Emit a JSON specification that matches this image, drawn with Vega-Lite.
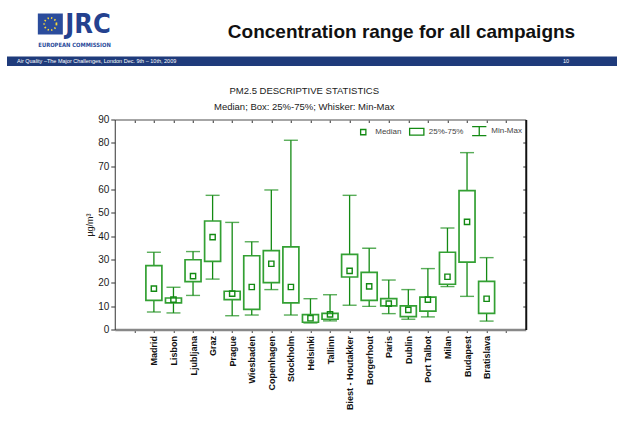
{
  "$schema": "https://vega.github.io/schema/vega-lite/v6.json",
  "background": "white",
  "padding": {"left": 7, "top": 9.5, "right": 0, "bottom": 4},
  "config": {
    "font": "Liberation Sans",
    "view": {"stroke": null}
  },
  "center": true,
  "spacing": 9,
  "resolve": {"legend": {"shape": "independent"}},
  "vconcat": [
    {
      "width": 25, "height": 21,
      "view": {"fill": "#2b4c9c", "stroke": null},
      "data": {"values": [{"emblem": "EU flag"}]},
      "mark": {"type": "point", "shape": "circle", "filled": false, "color": "#f5d63a", "strokeWidth": 1.8, "strokeDash": [1.4, 2.2], "size": 150, "opacity": 1},
      "encoding": {
        "x": {"datum": "EU", "type": "nominal", "axis": {"title": "EUROPEAN COMMISSION", "labels": false, "ticks": false, "domain": false, "grid": false, "titleAnchor": "start", "titleAlign": "left", "titleBaseline": "top", "titleFontSize": 5.8, "titleFontWeight": "bold", "titleColor": "#2a4a9a", "titlePadding": 6.5, "titleFont": "DejaVu Sans Condensed, Liberation Sans, sans-serif"}},
        "y": {"datum": "EU", "type": "nominal", "axis": {"orient": "right", "title": "JRC", "labels": false, "ticks": false, "domain": false, "grid": false, "titleAngle": 0, "titleAlign": "left", "titleBaseline": "middle", "titleAnchor": "middle", "titlePadding": 2, "titleFontSize": 27, "titleFontWeight": "bold", "titleColor": "#24418f", "titleFont": "DejaVu Sans Condensed, Liberation Sans, sans-serif"}}
      },
      "title": {"text": "Concentration range for all campaigns\u2800\u2800", "orient": "top", "anchor": "start", "frame": "group", "align": "left", "baseline": "alphabetic", "dx": 190, "dy": 18, "offset": -28.5, "fontSize": 19, "fontWeight": "bold", "color": "#111111", "font": "Liberation Sans"}
    },
    {
      "width": 610, "height": 9.5,
      "view": {"fill": "#1f3b7b", "stroke": null},
      "data": {"values": [
        {"part": "event", "label": "Air Quality –The Major Challenges, London Dec. 9th – 10th, 2009"},
        {"part": "page", "label": "10"}
      ]},
      "layer": [
        {
          "transform": [{"filter": "datum.part === 'event'"}],
          "mark": {"type": "text", "align": "left", "baseline": "middle", "dx": 10, "color": "white", "fontSize": 5.5},
          "encoding": {
            "x": {"field": "part", "type": "nominal", "scale": {"type": "point", "padding": 0, "domain": ["event", "page"]},
                  "axis": {"title": " ", "titleX": 627, "titleAlign": "left", "titleAnchor": "start", "labels": false, "ticks": false, "domain": false, "grid": false, "titlePadding": 1.5, "titleFontSize": 9}},
            "text": {"field": "label"}
          }
        },
        {
          "transform": [{"filter": "datum.part === 'page'"}],
          "mark": {"type": "text", "align": "right", "baseline": "middle", "dx": -48, "color": "white", "fontSize": 5.5},
          "encoding": {
            "x": {"field": "part", "type": "nominal", "scale": {"type": "point", "padding": 0, "domain": ["event", "page"]}},
            "text": {"field": "label"}
          }
        }
      ]
    },
    {
      "width": 411, "height": 210,
      "title": {"text": "PM2.5 DESCRIPTIVE STATISTICS", "subtitle": "Median; Box: 25%-75%; Whisker: Min-Max", "anchor": "middle", "frame": "group", "dx": -16, "offset": 3.1, "subtitlePadding": 6.5, "fontSize": 9.5, "fontWeight": "normal", "color": "#1a1a1a", "subtitleFontSize": 9.5, "subtitleColor": "#1a1a1a", "font": "Liberation Sans", "subtitleFont": "Liberation Sans"},
      "data": {"values": [
        {"city": "Madrid", "min": 7.5, "q1": 12.5, "median": 17.5, "q3": 27.4, "max": 33.1},
        {"city": "Lisbon", "min": 7.1, "q1": 11.4, "median": 12.8, "q3": 13.5, "max": 18.1},
        {"city": "Ljubljana", "min": 14.6, "q1": 20.5, "median": 22.9, "q3": 29.9, "max": 33.4},
        {"city": "Graz", "min": 21.6, "q1": 29.2, "median": 39.6, "q3": 46.5, "max": 57.5},
        {"city": "Prague", "min": 5.9, "q1": 12.8, "median": 15.4, "q3": 16.4, "max": 45.9},
        {"city": "Wiesbaden", "min": 6.2, "q1": 8.6, "median": 18.2, "q3": 31.6, "max": 37.6},
        {"city": "Copenhagen", "min": 17.1, "q1": 20.1, "median": 28.2, "q3": 33.8, "max": 59.8},
        {"city": "Stockholm", "min": 6.2, "q1": 11.4, "median": 18.2, "q3": 35.4, "max": 81.1},
        {"city": "Helsinki", "min": 2.8, "q1": 3.1, "median": 4.8, "q3": 6.4, "max": 13.2},
        {"city": "Tallinn", "min": 3.7, "q1": 4.4, "median": 6.5, "q3": 6.9, "max": 14.9},
        {"city": "Biest - Houtakker", "min": 10.4, "q1": 22.5, "median": 25.1, "q3": 32.2, "max": 57.5},
        {"city": "Borgerhout", "min": 9.9, "q1": 12.5, "median": 18.5, "q3": 24.5, "max": 34.8},
        {"city": "Paris", "min": 6.8, "q1": 10.1, "median": 11.1, "q3": 13.2, "max": 21.2},
        {"city": "Dublin", "min": 4.4, "q1": 5.5, "median": 8.4, "q3": 10.1, "max": 17.1},
        {"city": "Port Talbot", "min": 5.4, "q1": 7.9, "median": 12.8, "q3": 13.9, "max": 26.1},
        {"city": "Milan", "min": 18.4, "q1": 19.4, "median": 22.6, "q3": 33.1, "max": 43.5},
        {"city": "Budapest", "min": 14.2, "q1": 28.9, "median": 46.1, "q3": 59.5, "max": 75.8},
        {"city": "Bratislava", "min": 3.6, "q1": 6.9, "median": 13.2, "q3": 20.6, "max": 30.8}
      ]},
      "resolve": {"axis": {"x": "independent", "y": "independent"}},
      "layer": [
        {
          "mark": {"type": "rule", "color": "#138a13", "strokeWidth": 1.3},
          "encoding": {
            "x": {"field": "city", "type": "nominal", "sort": null,
                  "scale": {"type": "point", "padding": 1, "domain": ["", "Madrid", "Lisbon", "Ljubljana", "Graz", "Prague", "Wiesbaden", "Copenhagen", "Stockholm", "Helsinki", "Tallinn", "Biest - Houtakker", "Borgerhout", "Paris", "Dublin", "Port Talbot", "Milan", "Budapest", "Bratislava", " "]},
                  "axis": {"orient": "bottom", "title": null, "labelAngle": -90, "labelFontSize": 9, "labelFontWeight": "bold", "labelColor": "#111111", "labelPadding": 3, "tickSize": 3, "tickColor": "#444444", "domainColor": "#888888", "domainWidth": 2.5, "grid": false}},
            "y": {"field": "min", "type": "quantitative", "scale": {"domain": [0, 90], "nice": false},
                  "axis": {"orient": "left", "title": "µg/m³", "values": [0, 10, 20, 30, 40, 50, 60, 70, 80, 90], "tickSize": 4, "labelFontSize": 10, "labelColor": "#1a1a1a", "labelPadding": 2, "domainColor": "#333333", "tickColor": "#333333", "titleFontSize": 9, "titleFontWeight": "normal", "titleColor": "#1a1a1a", "titlePadding": 3, "grid": false}},
            "y2": {"field": "max"}
          }
        },
        {
          "mark": {"type": "tick", "orient": "horizontal", "color": "#138a13", "thickness": 1.4, "size": 14},
          "encoding": {
            "x": {"field": "city", "type": "nominal", "sort": null, "scale": {"type": "point", "padding": 1, "domain": ["", "Madrid", "Lisbon", "Ljubljana", "Graz", "Prague", "Wiesbaden", "Copenhagen", "Stockholm", "Helsinki", "Tallinn", "Biest - Houtakker", "Borgerhout", "Paris", "Dublin", "Port Talbot", "Milan", "Budapest", "Bratislava", " "]}, "axis": null},
            "y": {"field": "min", "type": "quantitative", "axis": null}
          }
        },
        {
          "mark": {"type": "tick", "orient": "horizontal", "color": "#138a13", "thickness": 1.4, "size": 14},
          "encoding": {
            "x": {"field": "city", "type": "nominal", "sort": null, "scale": {"type": "point", "padding": 1, "domain": ["", "Madrid", "Lisbon", "Ljubljana", "Graz", "Prague", "Wiesbaden", "Copenhagen", "Stockholm", "Helsinki", "Tallinn", "Biest - Houtakker", "Borgerhout", "Paris", "Dublin", "Port Talbot", "Milan", "Budapest", "Bratislava", " "]}, "axis": null},
            "y": {"field": "max", "type": "quantitative", "axis": null}
          }
        },
        {
          "mark": {"type": "bar", "width": 16, "fill": "white", "stroke": "#33a033", "strokeWidth": 1.7},
          "encoding": {
            "x": {"field": "city", "type": "nominal", "sort": null, "scale": {"type": "point", "padding": 1, "domain": ["", "Madrid", "Lisbon", "Ljubljana", "Graz", "Prague", "Wiesbaden", "Copenhagen", "Stockholm", "Helsinki", "Tallinn", "Biest - Houtakker", "Borgerhout", "Paris", "Dublin", "Port Talbot", "Milan", "Budapest", "Bratislava", " "]}, "axis": null},
            "y": {"field": "q1", "type": "quantitative", "axis": null},
            "y2": {"field": "q3"}
          }
        },
        {
          "mark": {"type": "point", "filled": false, "size": 225, "strokeWidth": 1.4, "color": "#138a13", "opacity": 1},
          "encoding": {
            "x": {"field": "city", "type": "nominal", "sort": null, "scale": {"type": "point", "padding": 1, "domain": ["", "Madrid", "Lisbon", "Ljubljana", "Graz", "Prague", "Wiesbaden", "Copenhagen", "Stockholm", "Helsinki", "Tallinn", "Biest - Houtakker", "Borgerhout", "Paris", "Dublin", "Port Talbot", "Milan", "Budapest", "Bratislava", " "]},
                  "axis": {"orient": "top", "title": null, "labels": false, "tickSize": -3, "tickColor": "#333333", "domainColor": "#888888", "domainWidth": 1.5, "grid": false}},
            "y": {"field": "median", "type": "quantitative",
                  "axis": {"orient": "right", "title": null, "labels": false, "values": [10, 20, 30, 40, 50, 60, 70, 80], "tickSize": -3, "tickColor": "#333333", "domainColor": "#111111", "domainWidth": 2, "grid": false}},
            "shape": {"datum": "Median",
                      "scale": {"domain": ["Median", "25%-75%", "Min-Max"], "range": ["M-0.35,-0.35H0.35V0.35H-0.35Z", "M-0.95,-0.45H0.95V0.45H-0.95Z", "M-0.95,-0.6H0.95M0,-0.6V0.6M-0.95,0.6H0.95"]},
                      "legend": {"orient": "top-right", "direction": "horizontal", "title": null, "offset": 3, "padding": 0, "symbolSize": 225, "symbolStrokeColor": "#138a13", "symbolFillColor": "transparent", "symbolStrokeWidth": 1.3, "labelFontSize": 8, "labelColor": "#444444", "labelOffset": 3.5, "columnPadding": 4.5}}
          }
        }
      ]
    }
  ]
}
